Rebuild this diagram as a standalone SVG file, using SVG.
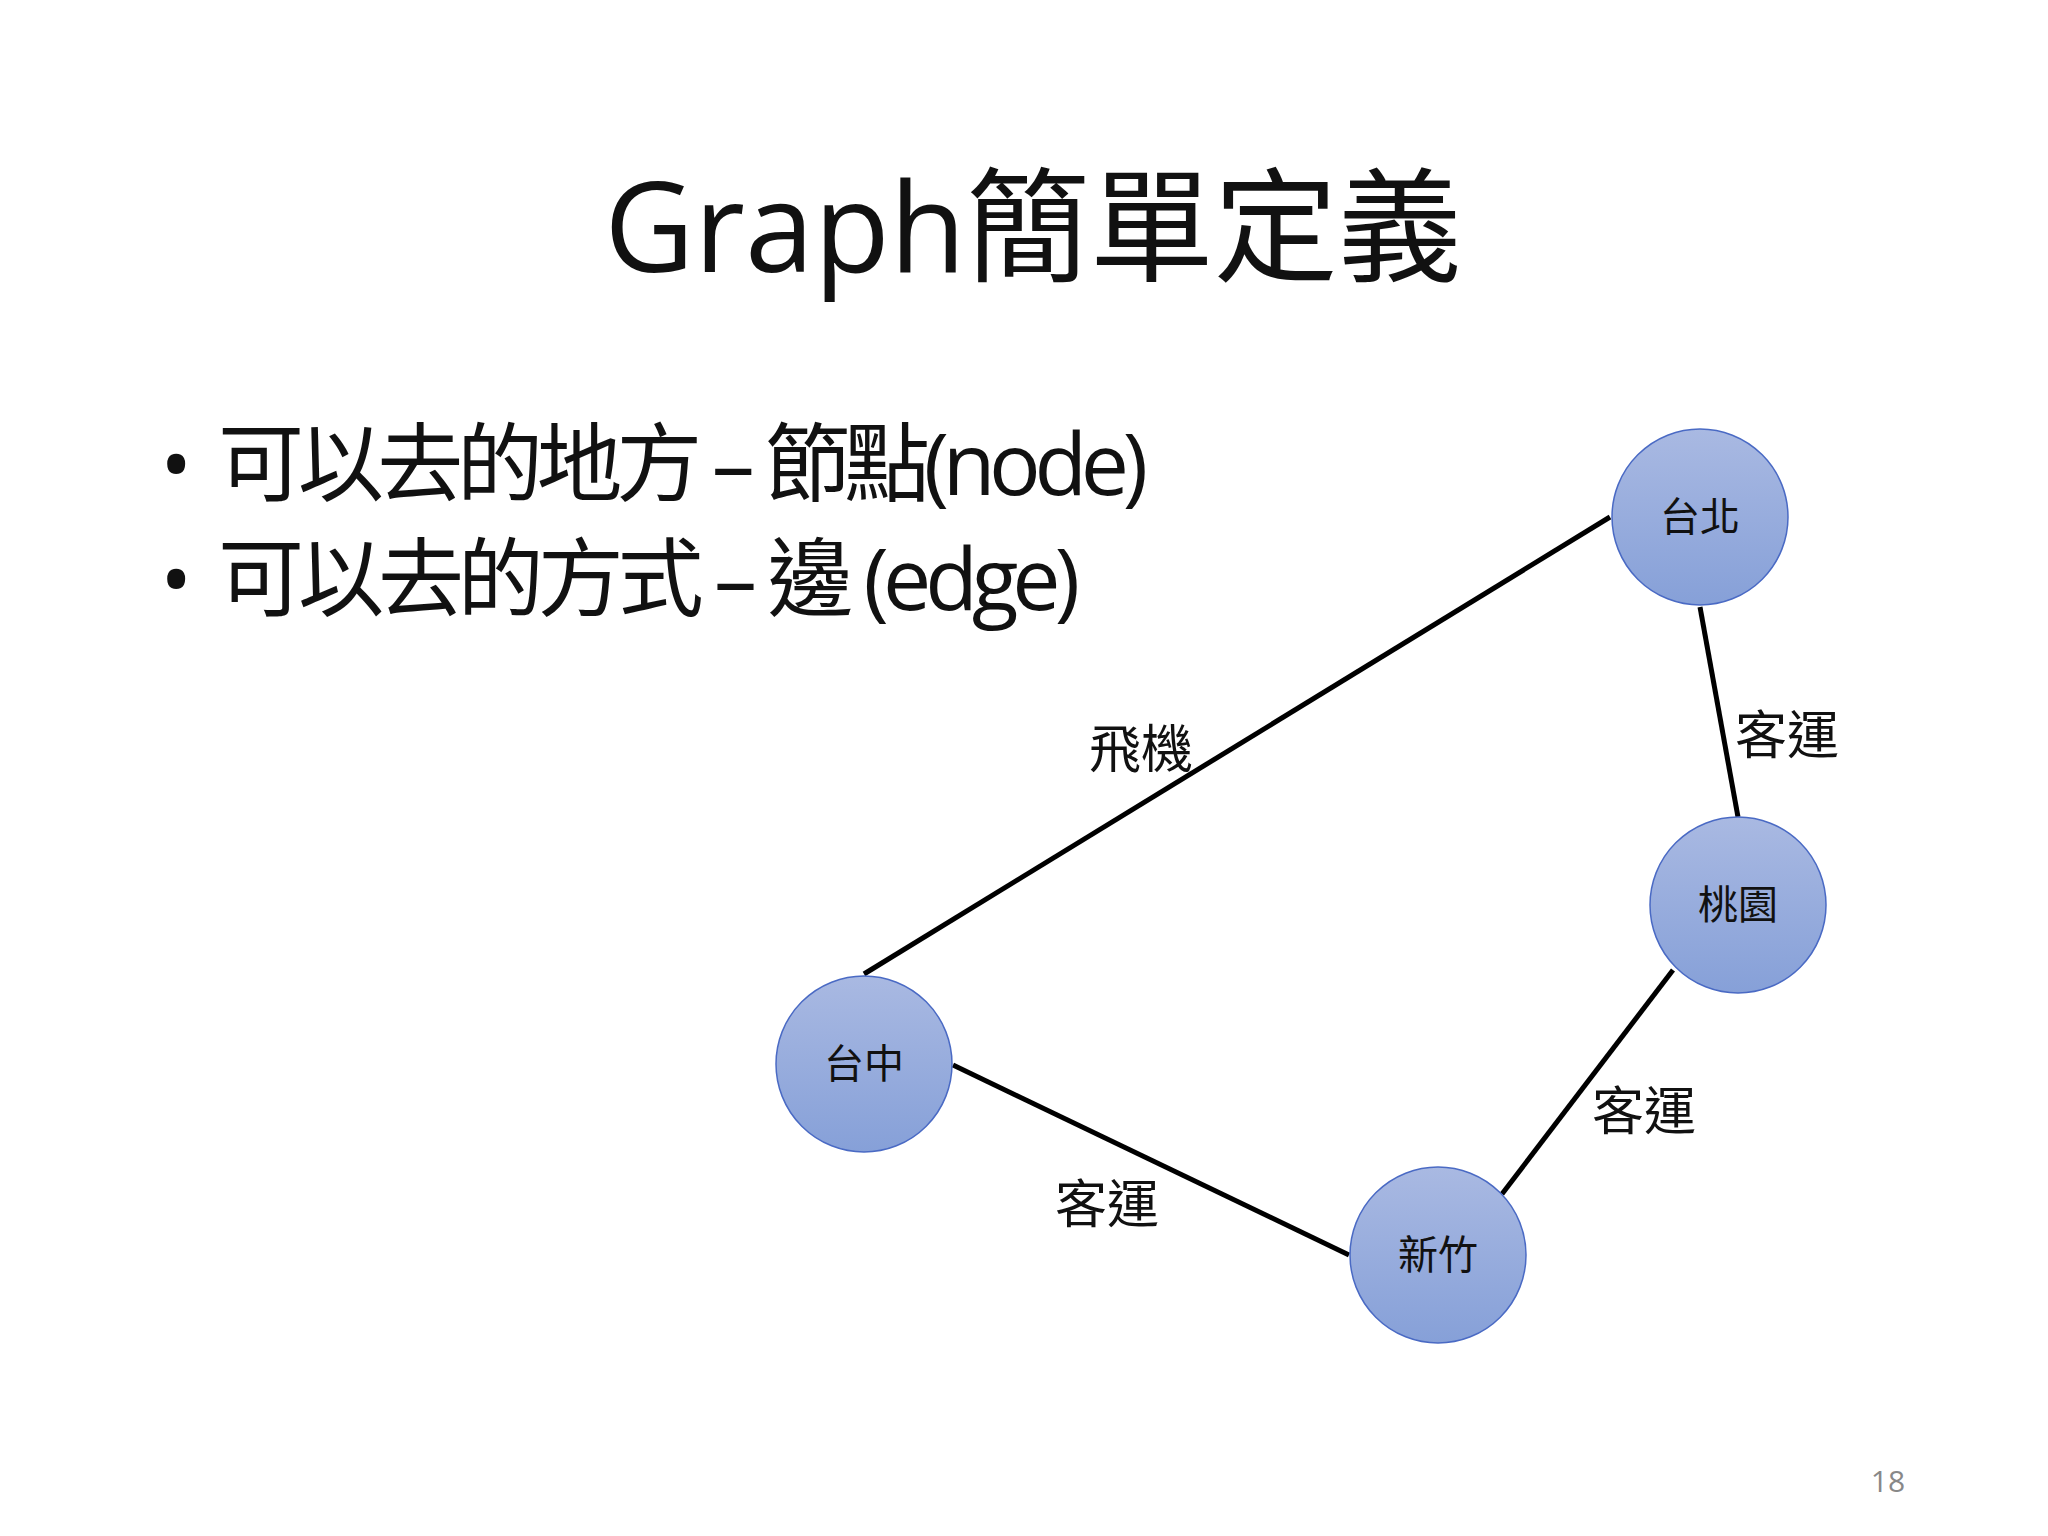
<svg xmlns="http://www.w3.org/2000/svg" width="2048" height="1536" viewBox="0 0 2048 1536">
<defs>
<linearGradient id="g" x1="0" y1="0" x2="0" y2="1"><stop offset="0" stop-color="#a9b9e2"/><stop offset="1" stop-color="#86a0d8"/></linearGradient>
<style>
text{font-family:"Open Sans","Noto Sans CJK TC",sans-serif;fill:#111}
.n{fill:url(#g);stroke:#4a6ac4;stroke-width:1.5}
.nt{font-size:40px;text-anchor:middle}
.lb{font-size:52px;text-anchor:middle}
.e{stroke:#000;stroke-width:5;fill:none}
.b{font-size:86px}
</style>
</defs>
<rect width="2048" height="1536" fill="#fff"/>
<text x="1033" y="272" font-size="124" text-anchor="middle">Graph簡單定義</text>
<text class="b" x="160" y="495">•</text>
<text class="b" x="218" y="495" textLength="930">可以去的地方 – 節點(node)</text>
<text class="b" x="160" y="610">•</text>
<text class="b" x="218" y="610" textLength="862">可以去的方式 – 邊 (edge)</text>
<g id="connectors">
<line class="e" x1="864" y1="974" x2="1610" y2="517"/>
<line class="e" x1="1700" y1="607" x2="1738" y2="817"/>
<line class="e" x1="1673" y1="970" x2="1502" y2="1194"/>
<line class="e" x1="953" y1="1065" x2="1349" y2="1255"/>
<text class="lb" x="1141" y="768">飛機</text>
<text class="lb" x="1787" y="754">客運</text>
<text class="lb" x="1644" y="1130">客運</text>
<text class="lb" x="1107" y="1223">客運</text>
</g>
<g id="taipei"><circle class="n" cx="1700" cy="517" r="88"/><text class="nt" x="1700" y="531">台北</text></g>
<g id="taoyuan"><circle class="n" cx="1738" cy="905" r="88"/><text class="nt" x="1738" y="919">桃園</text></g>
<g id="taichung"><circle class="n" cx="864" cy="1064" r="88"/><text class="nt" x="864" y="1078">台中</text></g>
<g id="hsinchu"><circle class="n" cx="1438" cy="1255" r="88"/><text class="nt" x="1438" y="1269">新竹</text></g>
<text x="1888" y="1492" font-size="30" text-anchor="middle" style="fill:#888">18</text>
</svg>
